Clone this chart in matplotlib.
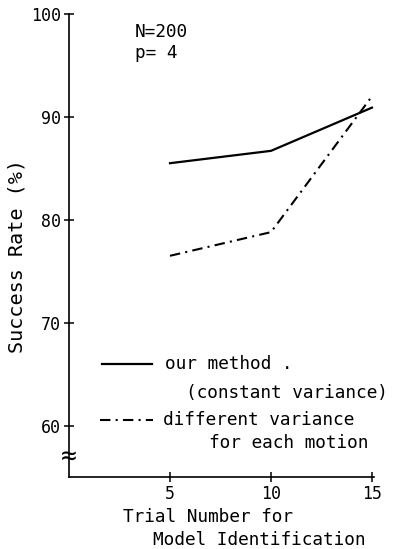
import matplotlib
matplotlib.use('Agg')
import matplotlib.pyplot as plt

trials = [5, 10, 15]
our_method = [85.5, 86.7, 90.9]
diff_variance = [76.5, 78.8, 92.0]

plt.rcParams['font.family'] = 'DejaVu Sans Mono'
fs = 12.8

fig = plt.figure(figsize=(3.93, 5.49), dpi=100)
ax = fig.add_axes([0.1756, 0.1311, 0.776, 0.8434])

ax.plot(trials, our_method, color='black', lw=1.6)
ax.plot(trials, diff_variance, color='black', lw=1.5, linestyle=(0, (5, 2.5, 1, 2.5)))

ax.set_xlim(0, 15.1)
ax.set_ylim(55, 100)
ax.set_xticks([5, 10, 15])
ax.set_yticks([60, 70, 80, 90, 100])
ax.tick_params(direction='inout', length=7, width=1.1, labelsize=12, pad=2)
for side in ['top', 'right']:
    ax.spines[side].set_visible(False)
for side in ['left', 'bottom']:
    ax.spines[side].set_linewidth(1.2)

ax.set_ylabel('Success Rate (%)', fontsize=14.5)
ax.yaxis.set_label_coords(-0.141, 0.477)

# axis break mark
ax.text(0, 0.043, '≈', transform=ax.transAxes, ha='center', va='center', fontsize=19)

# annotations
ax.text(0.216, 0.961, 'N=200', transform=ax.transAxes, va='center', fontsize=fs)
ax.text(0.216, 0.916, 'p= 4', transform=ax.transAxes, va='center', fontsize=fs)

# legend drawn by hand
ax.plot([0.108, 0.272], [0.244, 0.244], transform=ax.transAxes, color='black', lw=1.6)
ax.text(0.315, 0.244, 'our method .', transform=ax.transAxes, va='center', fontsize=fs)
ax.text(0.384, 0.181, '(constant variance)', transform=ax.transAxes, va='center', fontsize=fs)
ax.plot([0.102, 0.276], [0.123, 0.123], transform=ax.transAxes, color='black', lw=1.5,
        linestyle=(0, (5, 2.5, 1, 2.5)))
ax.text(0.308, 0.123, 'different variance', transform=ax.transAxes, va='center', fontsize=fs)
ax.text(0.459, 0.073, 'for each motion', transform=ax.transAxes, va='center', fontsize=fs)

# x label in two lines
ax.text(0.177, -0.087, 'Trial Number for', transform=ax.transAxes, va='center', fontsize=fs)
ax.text(0.275, -0.137, 'Model Identification', transform=ax.transAxes, va='center', fontsize=fs)

fig.savefig('out.png', dpi=100)
